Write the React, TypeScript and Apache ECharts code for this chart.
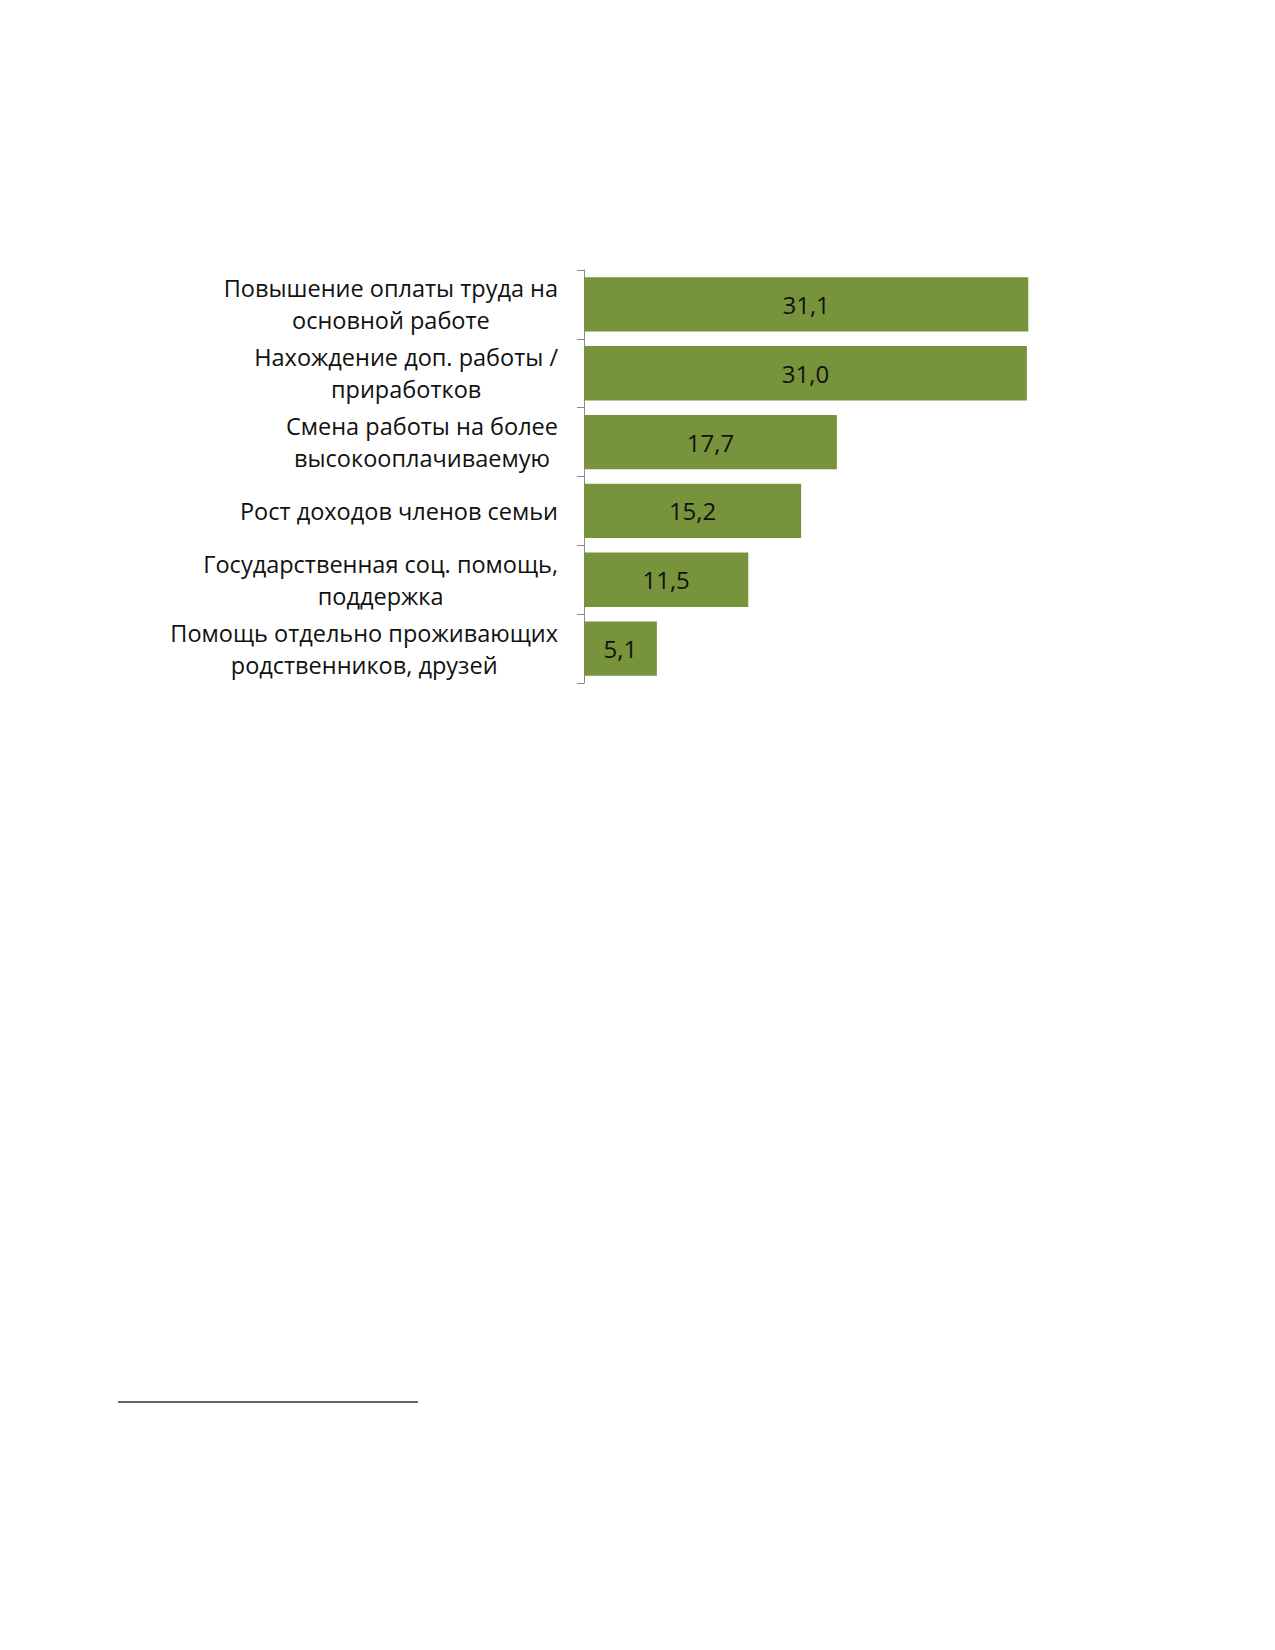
import React, { useEffect, useRef } from "react";
import * as echarts from "echarts";

const categories: string[][] = [
  ["Повышение оплаты труда на", "основной работе"],
  ["Нахождение доп. работы /", "приработков"],
  ["Смена работы на более", "высокооплачиваемую"],
  ["Рост доходов членов семьи"],
  ["Государственная соц. помощь,", "поддержка"],
  ["Помощь отдельно проживающих", "родственников, друзей"],
];
const values: number[] = [31.1, 31.0, 17.7, 15.2, 11.5, 5.1];

const FONT = "'Open Sans', 'Noto Sans', sans-serif";

export default function App() {
  const ref = useRef<HTMLDivElement>(null);
  useEffect(() => {
    if (!ref.current) return;
    const chart = echarts.init(ref.current, undefined, { renderer: "svg" });
    chart.setOption({
      animation: false,
      backgroundColor: "#ffffff",
      grid: { left: 584, top: 270, width: 500, height: 413, containLabel: false },
      xAxis: {
        type: "value",
        min: 0,
        max: 35,
        show: false,
        splitLine: { show: false },
      },
      yAxis: {
        type: "category",
        inverse: true,
        data: categories.map((c) => c.join("\n")),
        axisLine: { show: true, lineStyle: { color: "#8c8c8c", width: 1 } },
        axisTick: { show: true, length: 7, lineStyle: { color: "#8c8c8c" } },
        axisLabel: {
          margin: 26,
          formatter: (v: string) =>
            v
              .split("\n")
              .map((l) => "{c|" + l + "}")
              .join("\n"),
          rich: {
            c: {
              align: "center",
              fontFamily: FONT,
              fontSize: 23.5,
              lineHeight: 32,
              color: "#111111",
            },
          },
        },
      },
      series: [
        {
          type: "bar",
          data: values,
          barCategoryGap: "21%",
          itemStyle: { color: "#77933C" },
          label: {
            show: true,
            position: "inside",
            formatter: (p: any) => p.value.toFixed(1).replace(".", ","),
            fontFamily: FONT,
            fontSize: 24,
            color: "#111111",
          },
        },
      ],
      graphic: [
        {
          type: "line",
          shape: { x1: 118, y1: 1402, x2: 418, y2: 1402 },
          style: { stroke: "#333333", lineWidth: 1.5 },
        },
      ],
    });
    return () => chart.dispose();
  }, []);
  return (
    <div
      ref={ref}
      style={{ position: "absolute", left: 0, top: 0, width: 1275, height: 1650 }}
    />
  );
}
